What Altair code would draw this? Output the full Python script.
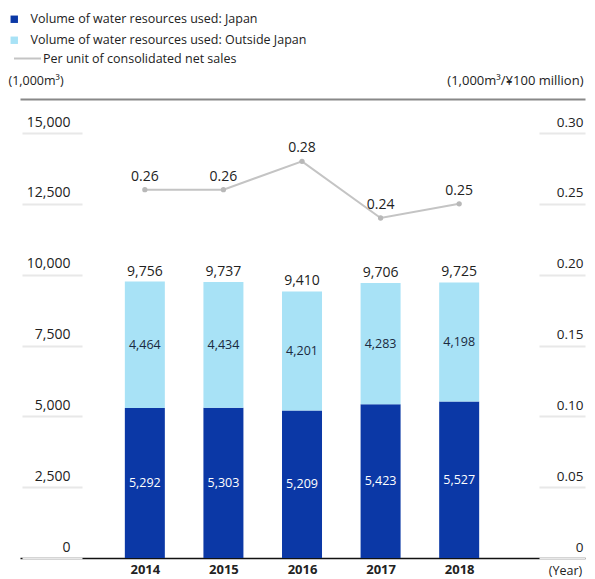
import altair as alt
import pandas as pd

years = [2014, 2015, 2016, 2017, 2018]
japan = [5292, 5303, 5209, 5423, 5527]
outside = [4464, 4434, 4201, 4283, 4198]
totals = [9756, 9737, 9410, 9706, 9725]
per_unit = [0.26, 0.26, 0.28, 0.24, 0.25]

S_JP = "Volume of water resources used: Japan"
S_OUT = "Volume of water resources used: Outside Japan"
S_LINE = "Per unit of consolidated net sales"

FONT = "Open Sans"
TXT = "#222222"

rows = []
for i, y in enumerate(years):
    rows.append({"year": y, "series": S_JP, "value": japan[i], "ord": 0})
    rows.append({"year": y, "series": S_OUT, "value": outside[i], "ord": 1})
long_df = pd.DataFrame(rows)
wide_df = pd.DataFrame({"year": years, "total": totals, "per_unit": per_unit,
                        "series": [S_LINE] * len(years)})

xscale = alt.Scale(domain=[2012.475, 2019.5375], nice=False, zero=False)
yscale = alt.Scale(domain=[0, 15000], nice=False)
y2scale = alt.Scale(domain=[0, 0.30], nice=False)

x_bottom = alt.X("year:Q", scale=xscale, axis=alt.Axis(
    values=years, format="d", ticks=False, grid=False, domainColor="#111111",
    domainWidth=1.5, labelFontSize=13, labelFontWeight="bold", labelColor=TXT,
    labelPadding=5, labelFont=FONT, title="(Year)", titleFont=FONT,
    titleFontSize=12.5, titleFontWeight="normal", titleColor=TXT,
    titleX=545, titleY=12, titleBaseline="middle", titleAlign="center"))
x_noaxis = alt.X("year:Q", scale=xscale, axis=None)

bars = alt.Chart(long_df).mark_bar(size=40).encode(
    x=x_bottom,
    y=alt.Y("value:Q", stack="zero", scale=yscale, axis=alt.Axis(
        values=[0, 2500, 5000, 7500, 10000, 12500, 15000], format=",.0f",
        orient="left", offset=-62, domain=False, grid=False,
        ticks=True, tickSize=60, tickColor="#e8e8e8", tickWidth=2,
        labelAlign="right", labelPadding=-48, labelBaseline="bottom",
        labelOffset=-4, labelFontSize=14, labelColor=TXT, labelFont=FONT,
        title="(1,000m³)", titleAngle=0, titleX=-74, titleY=-53,
        titleAlign="left", titleBaseline="middle", titleFont=FONT,
        titleFontSize=12.5, titleFontWeight="normal", titleColor=TXT)),
    fill=alt.Fill("series:N", scale=alt.Scale(domain=[S_JP, S_OUT],
                  range=["#0b38a6", "#a8e2f6"]),
                  legend=alt.Legend(orient="none", legendX=-12, legendY=-120,
                                    title=None, symbolType="square",
                                    symbolSize=55, labelFontSize=12.5,
                                    labelColor=TXT, labelFont=FONT,
                                    labelLimit=500, labelOffset=10,
                                    rowPadding=8, padding=0)),
    order=alt.Order("ord:Q"),
)

inner = alt.Chart(long_df).transform_stack(
    stack="value", groupby=["year"], as_=["v0", "v1"],
    sort=[alt.SortField("ord", order="ascending")]
).transform_calculate(
    mid="(datum.v0 + datum.v1) / 2"
).mark_text(fontSize=12.5, font=FONT, baseline="middle").encode(
    x=x_noaxis,
    y=alt.Y("mid:Q", scale=yscale, axis=None),
    text=alt.Text("value:Q", format=","),
    color=alt.Color("series:N", scale=alt.Scale(domain=[S_JP, S_OUT],
                    range=["#ffffff", "#1a2a40"]), legend=None),
)

total_txt = alt.Chart(wide_df).mark_text(
    fontSize=14, font=FONT, baseline="bottom", dy=-3, color=TXT
).encode(
    x=x_noaxis,
    y=alt.Y("total:Q", scale=yscale, axis=None),
    text=alt.Text("total:Q", format=","),
)

line = alt.Chart(wide_df).mark_line(strokeWidth=2).encode(
    x=alt.X("year:Q", scale=xscale, axis=alt.Axis(
        orient="top", offset=34, labels=False, ticks=False, grid=False,
        domainColor="#888888", domainWidth=2, title=None)),
    y=alt.Y("per_unit:Q", scale=y2scale, axis=alt.Axis(
        values=[0, 0.05, 0.10, 0.15, 0.20, 0.25, 0.30],
        labelExpr="datum.value == 0 ? '0' : format(datum.value, '.2f')",
        orient="right", offset=-46, domain=False, grid=False,
        ticks=True, tickSize=46, tickColor="#e8e8e8", tickWidth=2,
        labelAlign="right", labelPadding=-2, labelBaseline="bottom",
        labelOffset=-4, labelFontSize=13.5, labelColor=TXT, labelFont=FONT,
        title="(1,000m³/¥100 million)", titleAngle=0, titleX=44, titleY=-53,
        titleAlign="right", titleBaseline="middle", titleFont=FONT,
        titleFontSize=13, titleFontWeight="normal", titleColor=TXT)),
    stroke=alt.Stroke("series:N", scale=alt.Scale(domain=[S_LINE],
                      range=["#c4c4c4"]),
                      legend=alt.Legend(orient="none", legendX=-7, legendY=-89,
                                        title=None, symbolType="stroke",
                                        symbolSize=729, symbolStrokeWidth=2,
                                        labelFontSize=12.5, labelColor=TXT,
                                        labelLimit=500, labelOffset=1,
                                        labelFont=FONT, padding=0)),
)

pts = alt.Chart(wide_df).mark_point(filled=True, size=28, color="#b8b8b8",
                                    opacity=1).encode(
    x=x_noaxis,
    y=alt.Y("per_unit:Q", scale=y2scale, axis=None),
)

line_txt = alt.Chart(wide_df).mark_text(
    fontSize=14, font=FONT, baseline="bottom", dy=-6, color=TXT
).encode(
    x=x_noaxis,
    y=alt.Y("per_unit:Q", scale=y2scale, axis=None),
    text=alt.Text("per_unit:Q", format=".2f"),
)

chart = alt.layer(bars, inner, total_txt, line, pts, line_txt).resolve_scale(
    y="independent", color="independent"
).resolve_axis(x="independent", y="independent").properties(
    width=565, height=425,
    autosize=alt.AutoSizeParams(type="none"),
    padding={"left": 12, "top": 125, "right": 2, "bottom": 21},
    background="white",
).configure_view(stroke=None)

chart.save("out.html", embed_options={"renderer": "svg", "actions": False})
